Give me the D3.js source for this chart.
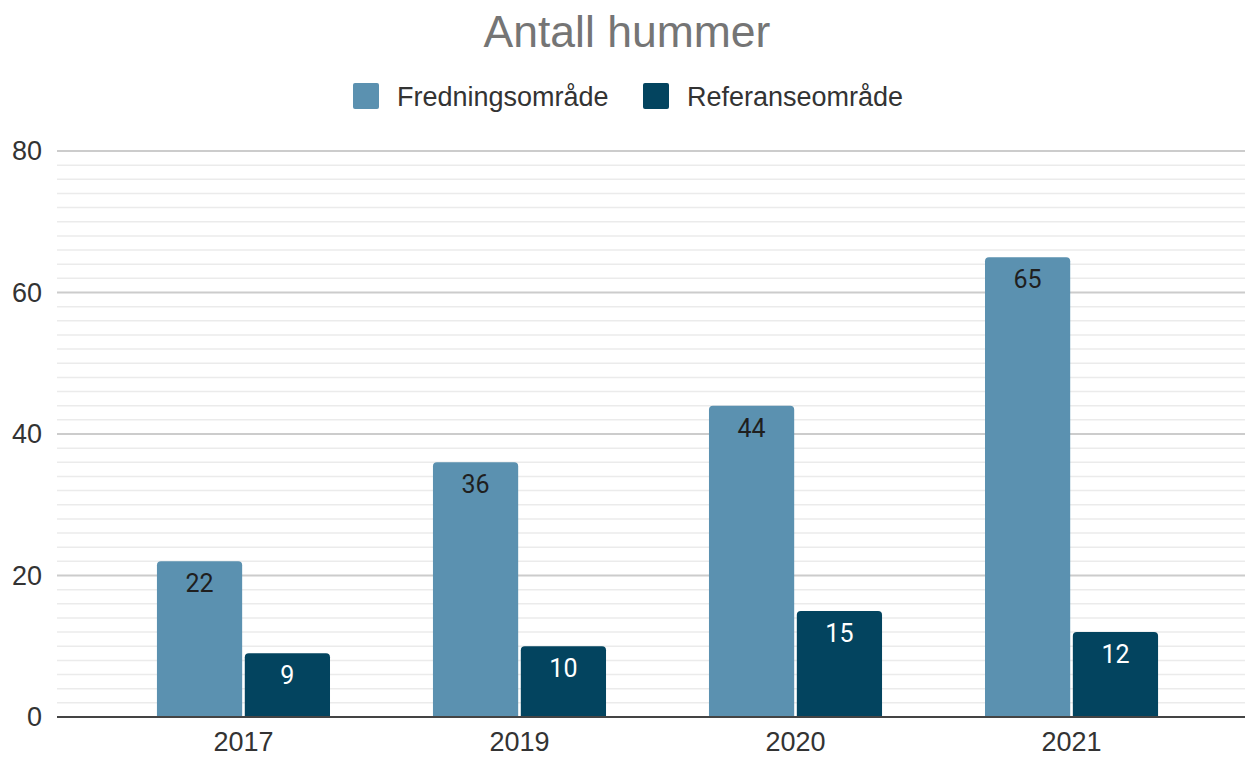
<!DOCTYPE html>
<html>
<head>
<meta charset="utf-8">
<script src="https://cdn.jsdelivr.net/npm/d3@7"></script>
<style>
  body { margin: 0; background: #fff; }
</style>
</head>
<body>
<div id="chart"></div>
<script>
const width = 1245
const height = 758

const years = ["2017", "2019", "2020", "2021"]
const seriesNames = ["Fredningsområde", "Referanseområde"]
const fredning = [22, 36, 44, 65]
const referanse = [9, 10, 15, 12]
const yTicks = [0, 20, 40, 60, 80]
const colors = ["#5b91b0", "#03445f"]

const plot = { left: 57, right: 1245, top: 151, bottom: 717 }

const svg = d3.select("#chart").append("svg").attr("width", width).attr("height", height)

const y = d3.scaleLinear().domain([0, 80]).range([plot.bottom, plot.top])
const x0 = d3.scaleBand().domain(years).range([70, 1245]).paddingInner(0.373).paddingOuter(0.315)
const x1 = d3.scaleBand().domain(seriesNames).range([0, x0.bandwidth()]).paddingInner(0.03)

// gridlines: minor every 2, major every 20
const gridGroup = svg.append("g")
gridGroup.selectAll("line.minor")
    .data(d3.range(2, 80, 2).filter(v => v % 20 !== 0))
    .join("line")
    .attr("x1", plot.left).attr("x2", plot.right)
    .attr("y1", d => y(d)).attr("y2", d => y(d))
    .attr("stroke", "#ebebeb").attr("stroke-width", 1.5)
gridGroup.selectAll("line.major")
    .data(yTicks.filter(v => v > 0))
    .join("line")
    .attr("x1", plot.left).attr("x2", plot.right)
    .attr("y1", d => y(d)).attr("y2", d => y(d))
    .attr("stroke", "#cccccc").attr("stroke-width", 2)

// y tick labels
const yAxis = d3.axisLeft(y).tickValues(yTicks).tickSize(0).tickPadding(0)
const yAxisGroup = svg.append("g").attr("transform", `translate(42, 0)`).call(yAxis)
yAxisGroup.select(".domain").remove()
yAxisGroup.selectAll("text")
    .attr("font-family", "Liberation Sans, Arial, sans-serif")
    .attr("font-size", 27).attr("fill", "#333")

// bars
const data = years.map((yr, i) => ({ year: yr, values: [fredning[i], referanse[i]] }))
const groups = svg.append("g").selectAll("g")
    .data(data)
    .join("g")
    .attr("transform", d => `translate(${x0(d.year)}, 0)`)

const r = 4
groups.selectAll("path")
    .data(d => d.values.map((v, j) => ({ name: seriesNames[j], value: v, j })))
    .join("path")
    .attr("d", d => {
        const xl = x1(d.name), w = x1.bandwidth(), yt = y(d.value), yb = y(0)
        return `M${xl},${yb}V${yt + r}Q${xl},${yt} ${xl + r},${yt}H${xl + w - r}Q${xl + w},${yt} ${xl + w},${yt + r}V${yb}Z`
    })
    .attr("fill", d => colors[d.j])

groups.selectAll("text")
    .data(d => d.values.map((v, j) => ({ name: seriesNames[j], value: v, j })))
    .join("text")
    .attr("x", d => x1(d.name) + x1.bandwidth() / 2)
    .attr("y", d => y(d.value) + 31)
    .attr("text-anchor", "middle")
    .attr("font-family", "Roboto, sans-serif")
    .attr("font-size", 25)
    .attr("fill", d => d.j === 0 ? "#1f1f1f" : "#ffffff")
    .text(d => d.value)

// baseline
svg.append("line")
    .attr("x1", plot.left).attr("x2", plot.right)
    .attr("y1", y(0)).attr("y2", y(0))
    .attr("stroke", "#444").attr("stroke-width", 2)

// x axis labels
const xAxis = d3.axisBottom(x0).tickSize(0).tickPadding(0)
const xAxisGroup = svg.append("g").attr("transform", `translate(0, 751)`).call(xAxis)
xAxisGroup.select(".domain").remove()
xAxisGroup.selectAll("text")
    .attr("dy", 0)
    .attr("font-family", "Liberation Sans, Arial, sans-serif")
    .attr("font-size", 27).attr("fill", "#333")

// title
svg.append("text")
    .attr("x", 627).attr("y", 47)
    .attr("text-anchor", "middle")
    .attr("font-family", "Liberation Sans, Arial, sans-serif")
    .attr("font-size", 44.5).attr("fill", "#757575")
    .text("Antall hummer")

// legend
const legendX = [353, 643]
const legend = svg.append("g").selectAll("g")
    .data(seriesNames)
    .join("g")
    .attr("transform", (d, i) => `translate(${legendX[i]}, 83)`)
legend.append("rect")
    .attr("width", 26).attr("height", 26).attr("rx", 2)
    .attr("fill", (d, i) => colors[i])
legend.append("text")
    .attr("x", 44).attr("y", 23)
    .attr("font-family", "Liberation Sans, Arial, sans-serif")
    .attr("font-size", 27).attr("fill", "#333")
    .text(d => d)
</script>
</body>
</html>
